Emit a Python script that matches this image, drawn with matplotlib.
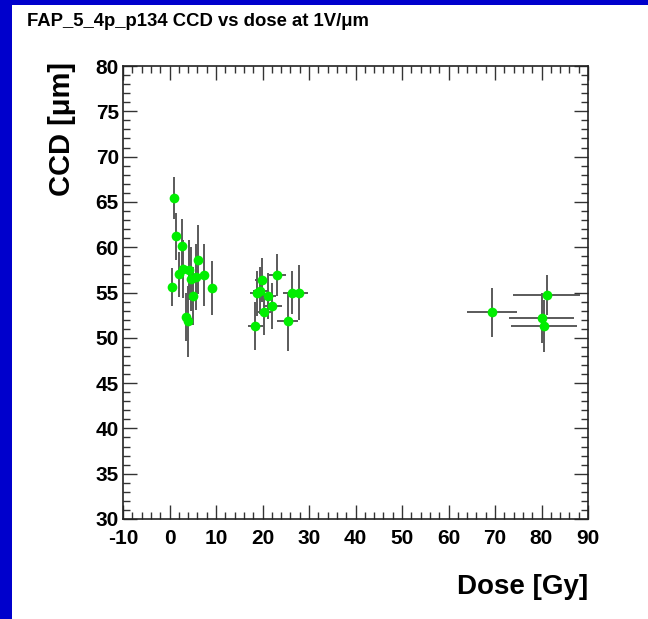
import matplotlib
matplotlib.use("Agg")
import matplotlib.pyplot as plt
from matplotlib.patches import Rectangle
from matplotlib.ticker import MultipleLocator

plt.rcParams['font.family'] = ['Liberation Sans', 'DejaVu Sans']
plt.rcParams['font.weight'] = 'bold'
plt.rcParams['axes.unicode_minus'] = False

# Data: dose [Gy], dose error, CCD [um], CCD error
dose = [0.5, 1.0, 1.4, 2.1, 2.6, 3.0, 3.5, 4.0, 4.2, 4.7, 5.1, 5.6, 6.2, 7.5, 9.1,
        18.4, 18.8, 19.5, 19.8, 20.4, 21.2, 22.1, 23.2, 25.4, 26.3, 27.9,
        69.3, 80.0, 80.5, 81.1]
dose_err = [0.3] * 15 + [1.6, 1.5, 1.5, 1.5, 1.5, 1.6, 2.0, 1.9, 2.2, 1.8, 1.8,
                         5.4, 7.0, 7.1, 7.2]
ccd = [55.6, 65.4, 61.2, 57.0, 60.1, 57.6, 52.3, 51.8, 57.5, 56.5, 54.6, 56.7, 58.6, 56.9, 55.5,
       51.3, 54.9, 55.2, 56.4, 52.8, 54.6, 53.5, 56.9, 51.8, 55.0, 55.0,
       52.8, 52.2, 51.3, 54.7]
ccd_err = [2.1, 2.3, 2.6, 2.5, 3.0, 3.2, 2.7, 3.9, 3.3, 3.5, 3.2, 3.6, 3.8, 3.4, 3.0,
           2.6, 2.5, 2.6, 2.4, 2.5, 2.5, 2.5, 2.3, 3.3, 2.4, 3.0,
           2.75, 2.8, 2.9, 2.2]

title = "FAP_5_4p_p134 CCD vs dose at 1V/\u03bcm"
xlabel = "Dose [Gy]"
ylabel = "CCD [\u03bcm]"

W, H = 648, 619
fig = plt.figure(figsize=(W / 100, H / 100), dpi=100)
fig.patch.set_facecolor('white')

# blue frame of the canvas
fig.patches.append(Rectangle((0, 0), 12 / W, 1, transform=fig.transFigure,
                             facecolor='#0000cc', edgecolor='none', zorder=0))
fig.patches.append(Rectangle((0, 1 - 5 / H), 1, 5 / H, transform=fig.transFigure,
                             facecolor='#0000cc', edgecolor='none', zorder=0))

ax = fig.add_axes([123 / W, 1 - 519 / H, (588 - 123) / W, (519 - 66) / H])
ax.errorbar(dose, ccd, xerr=dose_err, yerr=ccd_err, fmt='o', color='#00ee00',
            markersize=7, markeredgewidth=0, ecolor='#5a5a5a', elinewidth=1.4,
            capsize=1.5, capthick=1.0, zorder=3)

ax.set_xlim(-10, 90)
ax.set_ylim(30, 80)
ax.xaxis.set_major_locator(MultipleLocator(10))
ax.xaxis.set_minor_locator(MultipleLocator(2))
ax.yaxis.set_major_locator(MultipleLocator(5))
ax.yaxis.set_minor_locator(MultipleLocator(1))
ax.tick_params(which='both', direction='in', top=True, right=True, width=1.0,
               color='#333333')
ax.tick_params(which='major', length=10, labelsize=15)
ax.tick_params(axis='x', which='major', pad=7)
ax.tick_params(axis='y', which='major', pad=3)
ax.tick_params(which='minor', length=5)
for lab in ax.get_xticklabels() + ax.get_yticklabels():
    lab.set_fontweight('bold')
for s in ax.spines.values():
    s.set_linewidth(1.2)
    s.set_color('#222222')

fig.text(27 / W, 1 - 22 / H, title, fontsize=13.3, fontweight='bold',
         ha='left', va='center')
fig.text(588 / W, 1 - 587 / H, xlabel, fontsize=20, fontweight='bold',
         ha='right', va='center')
fig.text(62 / W, 1 - 62 / H, ylabel, fontsize=21, fontweight='bold',
         ha='center', va='top', rotation=90)

fig.savefig('out.png', dpi=100)
